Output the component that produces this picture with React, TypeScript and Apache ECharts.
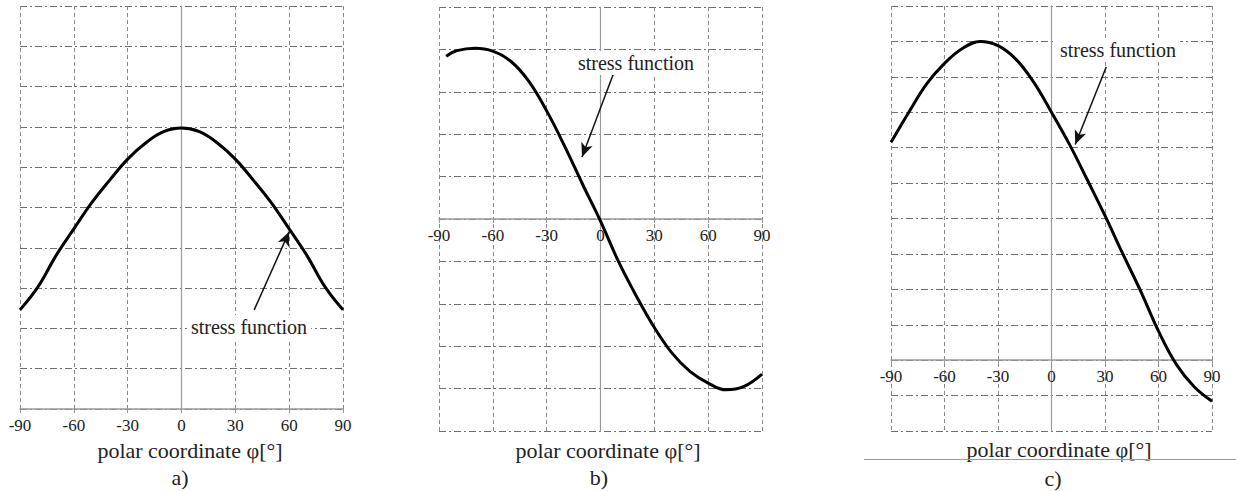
import React, { useEffect, useRef } from "react";
import * as echarts from "echarts";

const xTicks = [-90, -60, -30, 0, 30, 60, 90];

const phiA = [-90, -80, -70, -60, -50, -40, -30, -20, -10, 0, 10, 20, 30, 40, 50, 60, 70, 80, 90];
const valA = [2.46, 3.03, 3.8, 4.47, 5.12, 5.68, 6.2, 6.6, 6.88, 6.97, 6.88, 6.6, 6.2, 5.68, 5.12, 4.47, 3.8, 3.03, 2.46];

const phiB = [-86, -80, -70, -60, -50, -40, -30, -20, -10, 0, 10, 20, 30, 40, 50, 60, 70, 80, 90];
const valB = [3.84, 3.97, 4.03, 3.96, 3.72, 3.25, 2.55, 1.72, 0.82, -0.05, -1.0, -1.82, -2.56, -3.17, -3.6, -3.87, -4.03, -3.95, -3.66];

const phiC = [-90, -80, -70, -60, -50, -40, -30, -20, -10, 0, 10, 20, 30, 40, 50, 60, 70, 80, 90];
const valC = [6.15, 7.0, 7.8, 8.38, 8.8, 9.0, 8.88, 8.5, 7.85, 7.0, 6.1, 5.1, 4.08, 3.0, 1.95, 0.82, -0.12, -0.75, -1.16];

const yRanges = [
  [0, 10],
  [-5, 5],
  [-2, 10],
];

const arrows = [
  [[40.5, 2.46], [60, 4.4]],
  [[7, 3.4], [-10.3, 1.46]],
  [[30.7, 8.28], [13.3, 6.09]],
];

const labelText = "stress function";
const axisTitle = "polar coordinate φ[°]";
const panelTags = ["a)", "b)", "c)"];

const FONT = "Liberation Serif";

export default function App() {
  const ref = useRef<HTMLDivElement>(null);
  useEffect(() => {
    if (!ref.current) return;
    const chart = echarts.init(ref.current, null, { renderer: "svg" });
    const grids = [
      { left: 20, top: 6, width: 323, height: 403 },
      { left: 439, top: 7, width: 323, height: 424 },
      { left: 891, top: 6, width: 321, height: 425 },
    ];
    const datasets = [
      phiA.map((p, i) => [p, valA[i]]),
      phiB.map((p, i) => [p, valB[i]]),
      phiC.map((p, i) => [p, valC[i]]),
    ];
    // shift each x axis up from the grid bottom to the y = 0 level
    const xOffsets = grids.map((g, i) => {
      const [lo, hi] = yRanges[i];
      return -(g.height * (0 - lo)) / (hi - lo);
    });
    const xAxis = grids.map((_, i) => ({
      type: "value",
      gridIndex: i,
      position: "bottom",
      offset: xOffsets[i],
      min: xTicks[0],
      max: xTicks[xTicks.length - 1],
      interval: 30,
      axisLine: { show: true, onZero: false, lineStyle: { color: "#9a9a9a", width: 1.5 } },
      axisTick: { show: true, length: 4, lineStyle: { color: "#9a9a9a" } },
      axisLabel: { fontFamily: FONT, fontSize: 17, color: "#222", margin: 8 },
      splitLine: { show: true, lineStyle: { color: "#8a8a8a", width: 1, type: [4, 3] } },
    }));
    const yAxis = grids.map((_, i) => ({
      type: "value",
      gridIndex: i,
      min: yRanges[i][0],
      max: yRanges[i][1],
      interval: 1,
      axisLabel: { show: false },
      axisTick: { show: false },
      axisLine: { show: true, onZero: true, lineStyle: { color: "#9a9a9a", width: 1.2 } },
      splitLine: { show: true, lineStyle: { color: "#6f6f6f", width: 1, type: [7, 3, 2, 3] } },
    }));
    const series = datasets.map((d, i) => ({
      type: "line",
      xAxisIndex: i,
      yAxisIndex: i,
      data: d,
      smooth: 0.4,
      showSymbol: false,
      lineStyle: { color: "#000", width: 3 },
      markLine: {
        silent: true,
        symbol: ["none", "arrow"],
        symbolSize: [9, 14],
        label: { show: false },
        lineStyle: { color: "#111", width: 1.5, type: "solid" },
        data: [[{ coord: arrows[i][0] }, { coord: arrows[i][1] }]],
      },
    }));
    const textStyle = (x: number, y: number, text: string, size: number, bg?: boolean) => ({
      type: "text",
      z: 100,
      style: {
        x,
        y,
        text,
        fill: "#222",
        fontFamily: FONT,
        fontSize: size,
        align: "center",
        verticalAlign: "middle",
        backgroundColor: bg ? "#fff" : undefined,
        padding: bg ? [2, 4] : undefined,
      },
    });
    const graphic = [
      textStyle(249, 327, labelText, 20, true),
      textStyle(636, 63, labelText, 20, true),
      textStyle(1118, 50, labelText, 20, true),
      textStyle(190, 450, axisTitle, 22),
      textStyle(608, 450, axisTitle, 22),
      textStyle(1059, 449, axisTitle, 22),
      textStyle(180, 477, panelTags[0], 22),
      textStyle(599, 477, panelTags[1], 22),
      textStyle(1053, 478, panelTags[2], 22),
      {
        type: "line",
        z: 100,
        shape: { x1: 864, y1: 459.5, x2: 1236, y2: 459.5 },
        style: { stroke: "#9a9a9a", lineWidth: 1 },
      },
    ];
    chart.setOption({
      animation: false,
      backgroundColor: "#fff",
      grid: grids,
      xAxis,
      yAxis,
      series,
      graphic,
    });
    return () => chart.dispose();
  }, []);
  return (
    <div
      ref={ref}
      style={{ position: "absolute", left: 0, top: 0, width: 1236, height: 491 }}
    />
  );
}
